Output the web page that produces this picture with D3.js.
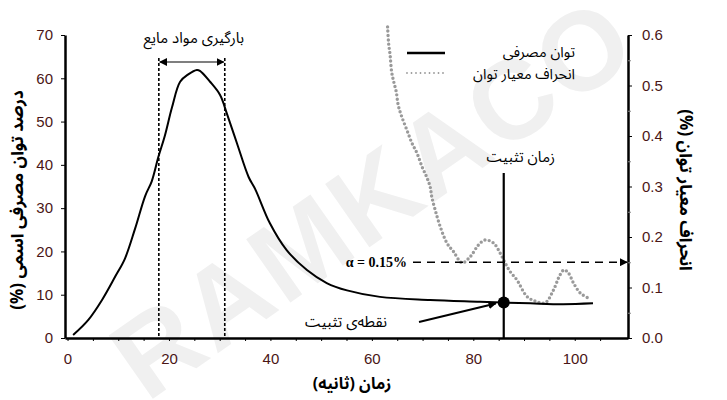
<!DOCTYPE html>
<html><head><meta charset="utf-8">
<script src="https://cdn.jsdelivr.net/npm/d3@7"></script>
<style>
html,body{margin:0;padding:0;background:#fff;}
svg{display:block;}
text{font-family:"Noto Sans Arabic","DejaVu Sans","Liberation Sans",sans-serif;}
.tick text{font-family:"Liberation Sans",Arial,sans-serif;}
</style></head>
<body>
<svg id="c" width="727" height="400"></svg>
<script>
// ---- data ----
const powerTime = [1.1,4.1,6.8,9.4,11.3,13.3,15.3,16.6,17.9,19.2,20.6,22.2,23.8,25.5,26.1,28.1,30.1,31.4,33.4,35.7,37.0,39.9,43.2,47.2,51.1,55.1,61.6,71.5,81.3,85.9,91.2,97.7,103.6];
const powerPct  = [0.7,4.2,8.8,14.2,18.3,25.2,32.8,36.2,41.8,46.8,53.3,59.2,60.9,61.9,61.7,59.2,56.1,51.9,45.0,37.2,34.4,26.5,20.3,15.7,12.7,11.0,9.5,8.8,8.4,8.2,8.0,7.8,8.0];
const sdTime = [63.1,63.3,63.6,63.9,64.3,64.8,65.2,65.9,66.9,67.9,68.9,69.9,70.8,71.5,71.8,72.5,73.5,74.8,76.1,77.8,79.4,81.0,82.3,84.0,85.3,86.3,87.3,88.6,90.6,92.5,94.2,95.8,97.1,97.9,98.8,99.8,101.1,102.7];
const sdPct  = [0.616,0.584,0.560,0.527,0.508,0.488,0.461,0.438,0.412,0.386,0.366,0.339,0.319,0.299,0.280,0.253,0.220,0.188,0.171,0.149,0.161,0.184,0.194,0.188,0.168,0.148,0.131,0.115,0.082,0.072,0.070,0.095,0.125,0.135,0.128,0.108,0.089,0.079];
const xTicks = [0,20,40,60,80,100];
const yLeftTicks = [0,10,20,30,40,50,60,70];
const yRightTicks = [0,0.1,0.2,0.3,0.4,0.5,0.6];
const loadStart = 18, loadEnd = 31;
const stableTime = 86, stablePower = 8.2;
const alphaValue = 0.15;
const RLE = "\u202B", PDF = "\u202C";
const labels = {
  xTitle: "زمان (ثانیه)",
  yLeftTitle: "درصد توان مصرفی اسمی (%)",
  yRightTitle: "انحراف معیار توان (%)",
  loading: "بارگیری مواد مایع",
  stableTime: "زمان تثبیت",
  stablePoint: "نقطه‌ی تثبیت",
  legendPower: "توان مصرفی",
  legendSd: "انحراف معیار توان",
  alpha: "α = 0.15%",
  watermark: "RAMKACO"
};
const rtl = s => RLE + s + PDF;

// ---- scales ----
const svg = d3.select("#c");
const x = d3.scaleLinear().domain([-0.5,110.5]).range([65,628]);
const yL = d3.scaleLinear().domain([0,70]).range([338,35]);
const yR = d3.scaleLinear().domain([0,0.6]).range([338,35]);
const tickColor = "#4a1616";

// watermark
svg.append("text").text(labels.watermark)
  .attr("transform","translate(378,205) rotate(-35)")
  .attr("text-anchor","middle").attr("dominant-baseline","middle")
  .style("font-family","'Liberation Sans',Arial,sans-serif")
  .style("font-weight","bold").style("font-size","112px")
  .style("letter-spacing","3px")
  .attr("fill","#f0f0f0");

// defs
const defs = svg.append("defs");
function marker(id, orient){
  defs.append("marker").attr("id",id).attr("viewBox","0 0 10 10")
    .attr("refX",9).attr("refY",5).attr("markerWidth",8).attr("markerHeight",8)
    .attr("markerUnits","userSpaceOnUse").attr("orient",orient)
    .append("path").attr("d","M0,0 L10,5 L0,10 z").attr("fill","#000");
}
marker("arr","auto");
marker("arrS","auto-start-reverse");

// ---- axes ----
function styleAxis(g){
  g.selectAll("path.domain").attr("stroke","#000").attr("stroke-width",2.5);
  g.selectAll(".tick line").attr("stroke","#000").attr("stroke-width",1);
  g.selectAll(".tick text").attr("fill",tickColor).style("font-size","15px");
}
const gx = svg.append("g").attr("transform","translate(0,338)")
  .call(d3.axisBottom(x).tickValues(xTicks).tickSizeInner(3).tickSizeOuter(0).tickPadding(9));
styleAxis(gx);
gx.selectAll(".tick text").attr("dy","0.9em");
svg.append("g").attr("transform","translate(0,338)")
  .call(d3.axisBottom(x).tickValues(d3.range(5,110,5).filter(v=>v%20)).tickSize(3).tickFormat(""))
  .call(g=>{g.select(".domain").remove(); g.selectAll("line").attr("stroke","#000");});
const gl = svg.append("g").attr("transform","translate(65,0)")
  .call(d3.axisLeft(yL).tickValues(yLeftTicks).tickSizeInner(4).tickSizeOuter(0).tickPadding(8));
styleAxis(gl);
const gr = svg.append("g").attr("transform","translate(628,0)")
  .call(d3.axisRight(yR).tickValues(yRightTicks).tickFormat(d3.format(".1f")).tickSizeInner(4).tickSizeOuter(0).tickPadding(10));
styleAxis(gr);
svg.append("g").attr("transform","translate(628,0)")
  .call(d3.axisRight(yR).tickValues([0.05,0.15,0.25,0.35,0.45,0.55]).tickSize(3).tickFormat(""))
  .call(g=>{g.select(".domain").remove(); g.selectAll("line").attr("stroke","#888");});

// axis titles
svg.append("text").text(rtl(labels.xTitle)).attr("x",352).attr("y",389)
  .attr("text-anchor","middle").style("font-size","16px").style("font-weight","bold");
svg.append("text").text(rtl(labels.yLeftTitle))
  .attr("transform","translate(23,200) rotate(-90)")
  .attr("text-anchor","middle").style("font-size","17px").style("font-weight","bold");
svg.append("text").text(rtl(labels.yRightTitle))
  .attr("transform","translate(680,190) rotate(90)")
  .attr("text-anchor","middle").style("font-size","17px").style("font-weight","bold");

// ---- loading region ----
[loadStart, loadEnd].forEach(v=>{
  svg.append("line").attr("x1",x(v)).attr("x2",x(v)).attr("y1",58).attr("y2",338)
    .attr("stroke","#000").attr("stroke-width",1.6).attr("stroke-dasharray","3,2");
});
svg.append("line").attr("x1",x(loadStart)+1).attr("x2",x(loadEnd)-1).attr("y1",62).attr("y2",62)
  .attr("stroke","#000").attr("stroke-width",1.2)
  .attr("marker-end","url(#arr)").attr("marker-start","url(#arrS)");
svg.append("text").text(rtl(labels.loading)).attr("x",(x(loadStart)+x(loadEnd))/2+2).attr("y",43)
  .attr("text-anchor","middle").style("font-size","15px");

// ---- SD dotted series ----
const sdData = sdTime.map((t,i)=>({t, v:sdPct[i]}));
svg.append("path").datum(sdData)
  .attr("d", d3.line().x(d=>x(d.t)).y(d=>yR(d.v)).curve(d3.curveCatmullRom))
  .attr("fill","none").attr("stroke","#9a9a9a").attr("stroke-width",3.4)
  .attr("stroke-linecap","round").attr("stroke-dasharray","0,4.3");

// ---- power series ----
const pData = powerTime.map((t,i)=>({t, v:powerPct[i]}));
svg.append("path").datum(pData)
  .attr("d", d3.line().x(d=>x(d.t)).y(d=>yL(d.v)).curve(d3.curveCatmullRom))
  .attr("fill","none").attr("stroke","#000").attr("stroke-width",2);

// ---- alpha threshold ----
svg.append("text").text(labels.alpha).attr("x",407).attr("y",yR(alphaValue)+5)
  .attr("text-anchor","end")
  .style("font-family","'Liberation Serif','Times New Roman',serif")
  .style("font-size","14px").style("font-weight","bold");
svg.append("line").attr("x1",413).attr("x2",627).attr("y1",yR(alphaValue)).attr("y2",yR(alphaValue))
  .attr("stroke","#000").attr("stroke-width",1.6).attr("stroke-dasharray","8,6")
  .attr("marker-end","url(#arr)");

// ---- stabilisation time ----
svg.append("line").attr("x1",x(stableTime)).attr("x2",x(stableTime)).attr("y1",173).attr("y2",338)
  .attr("stroke","#000").attr("stroke-width",2.2);
svg.append("circle").attr("cx",x(stableTime)).attr("cy",yL(stablePower)).attr("r",6).attr("fill","#000");
svg.append("text").text(rtl(labels.stableTime)).attr("x",x(stableTime)+17).attr("y",162)
  .attr("text-anchor","middle").style("font-size","15px");
svg.append("line").attr("x1",419).attr("x2",x(stableTime)-8).attr("y1",322).attr("y2",yL(stablePower)+1)
  .attr("stroke","#000").attr("stroke-width",2).attr("marker-end","url(#arr)");
svg.append("text").text(rtl(labels.stablePoint)).attr("x",346).attr("y",327)
  .attr("text-anchor","middle").style("font-size","15px");

// ---- legend ----
svg.append("line").attr("x1",407).attr("x2",445).attr("y1",53).attr("y2",53)
  .attr("stroke","#000").attr("stroke-width",2.5);
svg.append("line").attr("x1",407).attr("x2",445).attr("y1",73).attr("y2",73)
  .attr("stroke","#999").attr("stroke-width",1.8).attr("stroke-linecap","round").attr("stroke-dasharray","0,4.5");
svg.append("text").text(rtl(labels.legendPower)).attr("x",575).attr("y",57)
  .attr("text-anchor","end").style("font-size","14.5px");
svg.append("text").text(rtl(labels.legendSd)).attr("x",575).attr("y",79)
  .attr("text-anchor","end").style("font-size","14.5px");
</script>
</body></html>
